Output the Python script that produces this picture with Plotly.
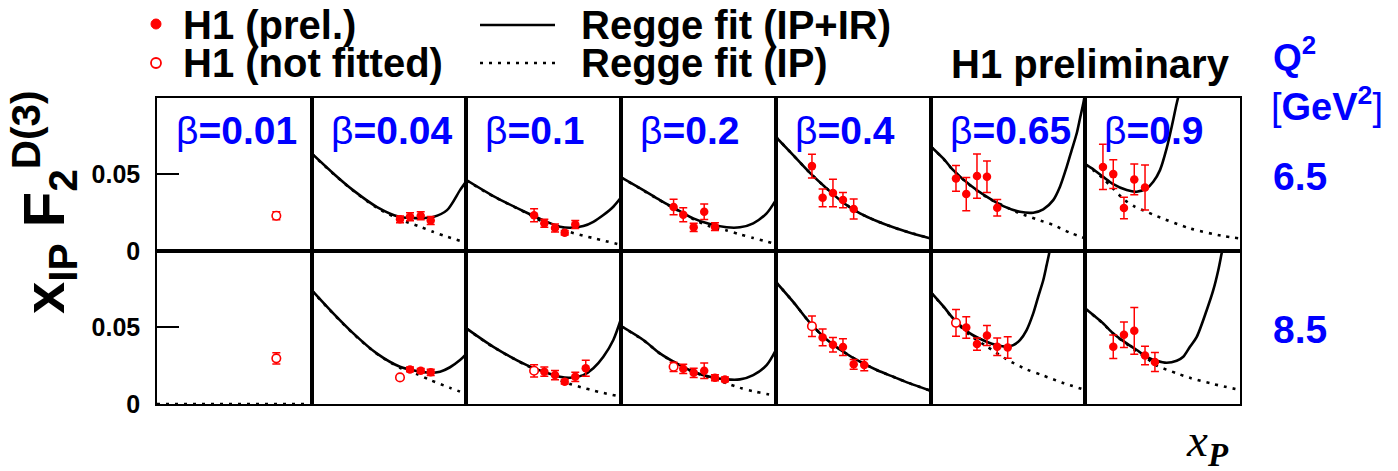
import plotly.graph_objects as go
from plotly.subplots import make_subplots

# ---------------- data ----------------
BETA_LABELS = ["0.01", "0.04", "0.1", "0.2", "0.4", "0.65", "0.9"]
Q2_LABELS = ["6.5", "8.5"]

# Q2 = 6.5 GeV^2 : measured points (x_IP, value, error, open marker = not fitted)
Q65_X = [[0.0206],
         [5.15e-3, 8.05e-3, 1.30e-2, 2.03e-2],
         [2.05e-3, 3.24e-3, 5.22e-3, 8.05e-3, 1.29e-2],
         [1.04e-3, 1.60e-3, 2.55e-3, 4.08e-3, 6.59e-3],
         [5.01e-4, 8.07e-4, 1.28e-3, 2.0e-3, 3.23e-3],
         [3.11e-4, 4.92e-4, 7.94e-4, 1.24e-3, 1.96e-3],
         [2.2e-4, 3.49e-4, 5.62e-4, 8.91e-4, 1.44e-3]]
Q65_Y = [[0.0229],
         [0.0206, 0.0223, 0.0229, 0.0199],
         [0.0232, 0.0180, 0.0149, 0.0119, 0.0173],
         [0.0286, 0.0236, 0.0154, 0.0255, 0.0158],
         [0.0552, 0.0346, 0.0377, 0.0331, 0.0273],
         [0.0472, 0.0370, 0.0487, 0.0483, 0.0281],
         [0.0547, 0.0500, 0.0279, 0.0465, 0.0413]]
Q65_ERR = [[0.0026],
           [0.0022, 0.0026, 0.0026, 0.0026],
           [0.0042, 0.0026, 0.0026, 0.0015, 0.0026],
           [0.0050, 0.0045, 0.0027, 0.0050, 0.0025],
           [0.0078, 0.0058, 0.0090, 0.0050, 0.0065],
           [0.0084, 0.0108, 0.0144, 0.0103, 0.0054],
           [0.0147, 0.0094, 0.0070, 0.0100, 0.0146]]
Q65_OPEN = [[True], [False] * 4, [False] * 5, [False] * 5, [False] * 5, [False] * 5, [False] * 5]

# Q2 = 6.5 : Regge fit IP+IR (solid) and IP only (dotted)
Q65_FIT_X = [[1e-4, 0.1],
             [1e-4, 2.59e-4, 6.32e-4, 1.85e-3, 5.15e-3, 1.26e-2, 2.25e-2, 4.21e-2, 7.52e-2, 0.1],
             [1e-4, 3.33e-4, 1.48e-3, 3.61e-3, 6.53e-3, 1.02e-2, 1.85e-2, 2.89e-2, 4.52e-2, 7.05e-2, 0.1],
             [1e-4, 2.69e-4, 5.65e-4, 1.19e-3, 2.50e-3, 5.27e-3, 1.11e-2, 2.01e-2, 3.64e-2, 6.62e-2, 0.1],
             [1e-4, 2.17e-4, 4.58e-4, 9.66e-4, 2.03e-3, 4.28e-3, 9.02e-3, 1.89e-2, 3.98e-2, 0.1],
             [1e-4, 1.76e-4, 2.75e-4, 5.81e-4, 1.22e-3, 2.57e-3, 5.41e-3, 9.79e-3, 1.53e-2, 2.39e-2,
              3.23e-2, 4.36e-2, 5.45e-2, 6.81e-2, 7.89e-2, 9.14e-2, 0.1],
             [1e-4, 1.43e-4, 2.23e-4, 3.49e-4, 6.35e-4, 9.93e-4, 1.55e-3, 2.08e-3, 2.81e-3, 3.78e-3,
              4.73e-3, 5.92e-3, 7.0e-3]]
Q65_FIT_Y = [[0.0, 0.0],
             [0.0634, 0.0506, 0.0396, 0.0286, 0.0221, 0.0214, 0.0221, 0.0266, 0.0396, 0.0455],
             [0.0461, 0.0357, 0.0249, 0.0190, 0.0158, 0.0151, 0.0162, 0.0190, 0.0234, 0.0288, 0.0349],
             [0.0479, 0.0396, 0.0331, 0.0271, 0.0212, 0.0175, 0.0154, 0.0154, 0.0180, 0.0245, 0.0331],
             [0.0742, 0.0623, 0.0508, 0.0407, 0.0314, 0.0245, 0.0195, 0.0154, 0.0119, 0.0082],
             [0.0682, 0.0602, 0.0526, 0.0429, 0.0353, 0.0292, 0.0255, 0.0249, 0.0271, 0.0331,
              0.0418, 0.0547, 0.0656, 0.0764, 0.0862, 0.0959, 0.1030],
             [0.0565, 0.0531, 0.0482, 0.0435, 0.0396, 0.0385, 0.0407, 0.0450, 0.0526, 0.0667,
              0.0807, 0.0959, 0.1060]]
Q65_IP_X = [[1e-4, 0.1],
            [1e-4, 2.59e-4, 6.32e-4, 1.85e-3, 5.15e-3, 1.26e-2, 2.25e-2, 4.21e-2, 0.1],
            [1e-4, 3.33e-4, 1.48e-3, 3.61e-3, 6.53e-3, 1.02e-2, 1.85e-2, 2.89e-2, 4.52e-2, 0.1],
            [1e-4, 2.69e-4, 5.65e-4, 1.19e-3, 2.50e-3, 5.27e-3, 1.11e-2, 2.01e-2, 3.64e-2, 6.62e-2, 0.1],
            [1e-4, 2.17e-4, 4.58e-4, 9.66e-4, 2.03e-3, 4.28e-3, 9.02e-3, 1.89e-2, 3.98e-2, 0.1],
            [1e-4, 1.76e-4, 2.75e-4, 5.81e-4, 1.22e-3, 2.99e-3, 5.41e-3, 1.14e-2, 2.39e-2, 5.04e-2, 0.1],
            [1e-4, 1.43e-4, 2.23e-4, 3.49e-4, 5.62e-4, 8.91e-4, 1.55e-3, 2.42e-3, 1.07e-2, 4.74e-2, 0.1]]
Q65_IP_Y = [[0.0, 0.0],
            [0.0632, 0.0504, 0.0393, 0.0281, 0.0205, 0.0158, 0.0125, 0.0093, 0.0054],
            [0.0459, 0.0355, 0.0246, 0.0176, 0.0146, 0.0123, 0.0099, 0.0084, 0.0068, 0.0039],
            [0.0477, 0.0394, 0.0329, 0.0268, 0.0207, 0.0160, 0.0134, 0.0108, 0.0085, 0.0062, 0.0045],
            [0.0742, 0.0623, 0.0508, 0.0407, 0.0314, 0.0245, 0.0195, 0.0154, 0.0119, 0.0082],
            [0.0680, 0.0600, 0.0524, 0.0427, 0.0350, 0.0284, 0.0245, 0.0206, 0.0169, 0.0119, 0.0082],
            [0.0562, 0.0525, 0.0470, 0.0405, 0.0335, 0.0290, 0.0255, 0.0227, 0.0147, 0.0097, 0.0082]]

# Q2 = 8.5 GeV^2 : measured points
Q85_X = [[0.0206],
         [5.15e-3, 8.05e-3, 1.30e-2, 2.03e-2],
         [2.05e-3, 3.24e-3, 5.22e-3, 8.05e-3, 1.29e-2, 2.06e-2],
         [1.04e-3, 1.60e-3, 2.55e-3, 4.08e-3, 6.59e-3, 1.03e-2],
         [5.01e-4, 8.07e-4, 1.28e-3, 2.0e-3, 3.23e-3, 5.18e-3],
         [3.11e-4, 4.92e-4, 7.94e-4, 1.24e-3, 1.96e-3, 3.13e-3],
         [3.49e-4, 5.62e-4, 8.91e-4, 1.44e-3, 2.24e-3]]
Q85_Y = [[0.0297],
         [0.0173, 0.0225, 0.0216, 0.0206],
         [0.0216, 0.0210, 0.0188, 0.0145, 0.0177, 0.0232],
         [0.0242, 0.0229, 0.0203, 0.0216, 0.0171, 0.0160],
         [0.0506, 0.0433, 0.0385, 0.0370, 0.0258, 0.0253],
         [0.0528, 0.0498, 0.0390, 0.0446, 0.0372, 0.0368],
         [0.0372, 0.0450, 0.0476, 0.0316, 0.0273]]
Q85_ERR = [[0.0037],
           [0.0012, 0.0015, 0.0015, 0.0020],
           [0.0040, 0.0030, 0.0030, 0.0015, 0.0030, 0.0052],
           [0.0030, 0.0030, 0.0030, 0.0050, 0.0020, 0.0015],
           [0.0067, 0.0054, 0.0047, 0.0054, 0.0032, 0.0037],
           [0.0087, 0.0070, 0.0040, 0.0065, 0.0057, 0.0070],
           [0.0076, 0.0083, 0.0152, 0.0060, 0.0062]]
Q85_OPEN = [[True], [True, False, False, False], [True] + [False] * 5, [True] + [False] * 5,
            [True] + [False] * 5, [True] + [False] * 5, [False] * 5]

Q85_FIT_X = [[1e-4, 0.1],
             [1e-4, 2.62e-4, 6.41e-4, 1.82e-3, 5.15e-3, 1.09e-2, 1.97e-2, 3.08e-2, 4.81e-2, 7.52e-2, 0.1],
             [1e-4, 3.33e-4, 1.48e-3, 3.61e-3, 6.53e-3, 1.02e-2, 1.85e-2, 2.89e-2, 4.52e-2, 7.05e-2, 0.1],
             [1e-4, 2.69e-4, 5.65e-4, 1.19e-3, 2.50e-3, 5.27e-3, 1.11e-2, 2.01e-2, 3.64e-2, 6.62e-2, 0.1],
             [1e-4, 2.17e-4, 4.58e-4, 9.66e-4, 2.03e-3, 4.28e-3, 9.02e-3, 1.89e-2, 3.98e-2, 0.1],
             [1e-4, 1.76e-4, 2.75e-4, 5.81e-4, 1.22e-3, 1.91e-3, 2.99e-3, 4.02e-3, 5.41e-3, 7.29e-3,
              9.79e-3, 1.22e-2, 1.53e-2, 1.78e-2, 2.0e-2, 2.2e-2],
             [1e-4, 1.43e-4, 2.23e-4, 3.49e-4, 6.35e-4, 9.93e-4, 1.55e-3, 2.42e-3, 3.78e-3, 5.92e-3,
              7.94e-3, 1.07e-2, 1.45e-2, 2.26e-2, 3.03e-2, 3.79e-2, 4.42e-2, 5.0e-2]]
Q85_FIT_Y = [[0.0, 0.0],
             [0.0740, 0.0589, 0.0459, 0.0329, 0.0242, 0.0214, 0.0203, 0.0210, 0.0239, 0.0286, 0.0325],
             [0.0492, 0.0372, 0.0253, 0.0203, 0.0177, 0.0171, 0.0188, 0.0232, 0.0307, 0.0416, 0.0556],
             [0.0506, 0.0416, 0.0329, 0.0264, 0.0210, 0.0177, 0.0160, 0.0160, 0.0188, 0.0253, 0.0351],
             [0.0794, 0.0664, 0.0528, 0.0420, 0.0340, 0.0275, 0.0221, 0.0177, 0.0134, 0.0086],
             [0.0729, 0.0636, 0.0556, 0.0459, 0.0405, 0.0383, 0.0372, 0.0383, 0.0416, 0.0481,
              0.0589, 0.0697, 0.0805, 0.0903, 0.0982, 0.1060],
             [0.0621, 0.0578, 0.0524, 0.0459, 0.0394, 0.0351, 0.0307, 0.0281, 0.0268, 0.0281,
              0.0307, 0.0372, 0.0437, 0.0610, 0.0740, 0.0870, 0.0982, 0.1070]]
Q85_IP_X = [[1e-4, 0.1],
            [1e-4, 2.62e-4, 6.41e-4, 1.82e-3, 5.15e-3, 1.09e-2, 1.97e-2, 4.81e-2, 0.1],
            [1e-4, 3.33e-4, 1.48e-3, 3.61e-3, 6.53e-3, 1.02e-2, 1.85e-2, 2.89e-2, 4.52e-2, 0.1],
            [1e-4, 2.69e-4, 5.65e-4, 1.19e-3, 2.50e-3, 5.27e-3, 1.11e-2, 2.01e-2, 3.64e-2, 6.62e-2, 0.1],
            [1e-4, 2.17e-4, 4.58e-4, 9.66e-4, 2.03e-3, 4.28e-3, 9.02e-3, 1.89e-2, 3.98e-2, 0.1],
            [1e-4, 1.76e-4, 2.75e-4, 5.81e-4, 1.22e-3, 2.99e-3, 7.29e-3, 1.53e-2, 3.5e-2, 0.1],
            [1e-4, 2.23e-4, 3.49e-4, 6.35e-4, 9.93e-4, 1.55e-3, 2.42e-3, 5.92e-3, 1.07e-2, 3.03e-2, 0.1]]
Q85_IP_Y = [[0.0, 0.0],
            [0.0738, 0.0587, 0.0457, 0.0327, 0.0236, 0.0195, 0.0156, 0.0105, 0.0065],
            [0.0490, 0.0370, 0.0250, 0.0195, 0.0155, 0.0130, 0.0105, 0.0088, 0.0072, 0.0047],
            [0.0505, 0.0415, 0.0328, 0.0263, 0.0208, 0.0172, 0.0135, 0.0105, 0.0083, 0.0065, 0.0052],
            [0.0794, 0.0664, 0.0528, 0.0420, 0.0340, 0.0275, 0.0221, 0.0177, 0.0134, 0.0086],
            [0.0727, 0.0634, 0.0553, 0.0447, 0.0375, 0.0290, 0.0225, 0.0185, 0.0140, 0.0091],
            [0.0620, 0.0522, 0.0457, 0.0390, 0.0343, 0.0298, 0.0250, 0.0200, 0.0170, 0.0130, 0.0091]]

ROWS = [
    dict(x=Q65_X, y=Q65_Y, err=Q65_ERR, op=Q65_OPEN, fx=Q65_FIT_X, fy=Q65_FIT_Y, ix=Q65_IP_X, iy=Q65_IP_Y),
    dict(x=Q85_X, y=Q85_Y, err=Q85_ERR, op=Q85_OPEN, fx=Q85_FIT_X, fy=Q85_FIT_Y, ix=Q85_IP_X, iy=Q85_IP_Y),
]

# ---------------- layout geometry (page pixels) ----------------
PAGE_W, PAGE_H = 1398, 471
BODY = 8                      # default body margin of the html page
W, H = PAGE_W - BODY, PAGE_H - BODY
PL, PR, PT, PB = 157, 1240, 98, 404   # plot area in page pixels
X_RANGE = [-4, -1]
Y_RANGE = [0, 0.0995]

SANS = "Liberation Sans, Arial, Helvetica, sans-serif"
SERIF = "Liberation Serif, Times New Roman, serif"
BLUE = "#0000ff"
RED = "#ff0000"


def fx(px):
    return (px - PL) / (PR - PL)


def fy(py):
    return (PB - py) / (PB - PT)


fig = make_subplots(rows=2, cols=7, horizontal_spacing=0, vertical_spacing=0)

for r, d in enumerate(ROWS):
    for c in range(7):
        row, col = r + 1, c + 1
        # IP only (dotted)
        fig.add_trace(go.Scatter(x=d["ix"][c], y=d["iy"][c], mode="lines",
                                 line=dict(color="black", width=2.6, dash="3px,6px",
                                           shape="spline", smoothing=0.8),
                                 hoverinfo="skip", showlegend=False), row=row, col=col)
        # IP + IR (solid)
        if c > 0:
            fig.add_trace(go.Scatter(x=d["fx"][c], y=d["fy"][c], mode="lines",
                                     line=dict(color="black", width=2.6, shape="spline", smoothing=0.8),
                                     hoverinfo="skip", showlegend=False), row=row, col=col)
        xs, ys, es, ops = d["x"][c], d["y"][c], d["err"][c], d["op"][c]
        for is_open in (False, True):
            sx = [v for v, o in zip(xs, ops) if o == is_open]
            sy = [v for v, o in zip(ys, ops) if o == is_open]
            se = [v for v, o in zip(es, ops) if o == is_open]
            if not sx:
                continue
            fig.add_trace(go.Scatter(
                x=sx, y=sy, mode="markers",
                error_y=dict(type="data", array=se, color=RED, thickness=1.5, width=4),
                marker=dict(symbol="circle", size=8.5,
                            color="white" if is_open else RED,
                            line=dict(color=RED, width=1.6 if is_open else 0)),
                showlegend=False), row=row, col=col)

for r in range(2):
    for c in range(7):
        fig.update_xaxes(type="log", range=X_RANGE, showline=True, mirror=True,
                         linecolor="black", linewidth=1.5, showgrid=False, zeroline=False,
                         showticklabels=False, ticks="", row=r + 1, col=c + 1)
        if c == 0:
            fig.update_yaxes(range=Y_RANGE, showline=True, mirror=True, linecolor="black",
                             linewidth=1.5, showgrid=False, zeroline=False,
                             tickvals=[0, 0.05], ticktext=["0", "0.05"], ticks="inside",
                             ticklen=22, tickwidth=1.5, tickcolor="black",
                             ticklabelstandoff=10,
                             tickfont=dict(family=SANS, size=25, color="black", weight="bold"),
                             row=r + 1, col=c + 1)
        else:
            fig.update_yaxes(range=Y_RANGE, showline=True, mirror=True, linecolor="black",
                             linewidth=1.5, showgrid=False, zeroline=False,
                             showticklabels=False, ticks="", row=r + 1, col=c + 1)

ann = []
col_w = (PR - PL) / 7
# beta labels
for c, b in enumerate(BETA_LABELS):
    ann.append(dict(x=fx(PL + c * col_w + 17), y=fy(131), xref="paper", yref="paper",
                    xanchor="left", yanchor="middle", showarrow=False,
                    text="<span style='font-weight:normal'>β</span>=" + b,
                    font=dict(family=SANS, size=39, color=BLUE, weight="bold")))
# Q2 values
for py, q in zip([176, 329], Q2_LABELS):
    ann.append(dict(x=fx(1271), y=fy(py), xref="paper", yref="paper", xanchor="left",
                    yanchor="middle", showarrow=False, text=q,
                    font=dict(family=SANS, size=39, color=BLUE, weight="bold")))
ann.append(dict(x=fx(1271), y=fy(54), xref="paper", yref="paper", xanchor="left",
                yanchor="middle", showarrow=False, text="Q<sup>2</sup>",
                font=dict(family=SANS, size=37, color=BLUE, weight="bold")))
ann.append(dict(x=fx(1269), y=fy(104), xref="paper", yref="paper", xanchor="left",
                yanchor="middle", showarrow=False,
                text="<span style='font-weight:normal'>[</span>GeV<sup>2</sup><span style='font-weight:normal'>]</span>",
                font=dict(family=SANS, size=38, color=BLUE, weight="bold")))
# legend texts
for px, py, t in [(181, 25, "H1 (prel.)"), (181, 63, "H1 (not fitted)"),
                  (579, 25, "Regge fit (IP+IR)"), (579, 63, "Regge fit (IP)"),
                  (949, 64, "H1 preliminary")]:
    ann.append(dict(x=fx(px), y=fy(py), xref="paper", yref="paper", xanchor="left",
                    yanchor="middle", showarrow=False, text=t,
                    font=dict(family=SANS, size=40, color="black", weight="bold")))
# axis titles
ann.append(dict(x=fx(44), y=fy(202), xref="paper", yref="paper", xanchor="center",
                yanchor="middle", showarrow=False, textangle=-90,
                text="x<sub>IP</sub> F<sub>2</sub><sup>D(3)</sup>",
                font=dict(family=SANS, size=58, color="black", weight="bold")))
ann.append(dict(x=fx(1184), y=fy(443), xref="paper", yref="paper", xanchor="left",
                yanchor="middle", showarrow=False,
                text="<i>x</i><sub><b><i>P</i></b></sub>",
                font=dict(family=SERIF, size=47, color="black")))

shapes = [
    dict(type="circle", xref="paper", yref="paper", x0=fx(151), x1=fx(161), y0=fy(19), y1=fy(29),
         fillcolor=RED, line=dict(color=RED, width=1)),
    dict(type="circle", xref="paper", yref="paper", x0=fx(151), x1=fx(161), y0=fy(58), y1=fy(68),
         fillcolor="white", line=dict(color=RED, width=1.8)),
    dict(type="line", xref="paper", yref="paper", x0=fx(480), x1=fx(555), y0=fy(25), y1=fy(25),
         line=dict(color="black", width=2.6)),
    dict(type="line", xref="paper", yref="paper", x0=fx(480), x1=fx(555), y0=fy(63), y1=fy(63),
         line=dict(color="black", width=2.6, dash="3px,6px")),
]

fig.update_layout(width=W, height=H, autosize=False,
                  margin=dict(l=PL - BODY, r=PAGE_W - PR, t=PT - BODY, b=PAGE_H - PB, pad=0),
                  paper_bgcolor="white", plot_bgcolor="white",
                  annotations=ann, shapes=shapes, showlegend=False,
                  font=dict(family=SANS))

fig.write_html("out.html")
